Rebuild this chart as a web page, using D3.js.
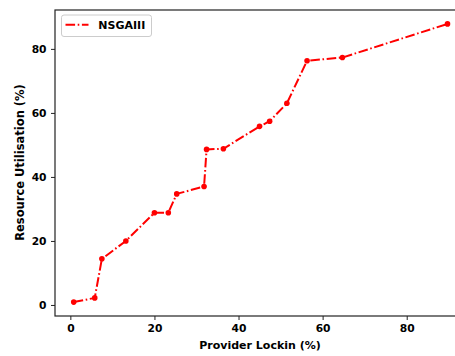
<!DOCTYPE html>
<html><head><meta charset="utf-8">
<script src="https://cdn.jsdelivr.net/npm/d3@7"></script>
<style>body{margin:0;background:#fff}svg{display:block}text{font-family:"DejaVu Sans",sans-serif;font-weight:bold}</style>
</head><body>
<svg id="c" width="455" height="356"></svg>
<script>
const seriesName = "NSGAIII";
const lockin = [0.8, 5.8, 7.5, 13.2, 20.0, 23.3, 25.3, 31.8, 32.4, 36.4, 45.0, 47.4, 51.5, 56.3, 64.7, 89.7];
const utilisation = [0.9, 2.2, 14.4, 20.0, 28.8, 28.8, 34.7, 37.0, 48.6, 48.8, 55.8, 57.4, 63.0, 76.3, 77.3, 87.8];
const xTicks = [0, 20, 40, 60, 80];
const yTicks = [0, 20, 40, 60, 80];

const svg = d3.select("#c");
const L = 55, R = 466, T = 10, B = 316;
const x = d3.scaleLinear().domain([-3.65, 94.1]).range([L, R]);
const y = d3.scaleLinear().domain([-3.45, 92.15]).range([B, T]);

const ax = svg.append("g").attr("transform", `translate(0,${B})`)
  .call(d3.axisBottom(x).tickValues(xTicks).tickSize(4).tickPadding(4).tickSizeOuter(0));
const ay = svg.append("g").attr("transform", `translate(${L},0)`)
  .call(d3.axisLeft(y).tickValues(yTicks).tickSize(4).tickPadding(4.5).tickSizeOuter(0));
[ax, ay].forEach(g => {
  g.select(".domain").remove();
  g.selectAll("line").attr("stroke", "#222").attr("stroke-width", 1);
  g.selectAll("text").attr("font-size", 10.7).attr("font-weight", "bold").attr("fill", "#000")
    .attr("font-family", "DejaVu Sans");
});
// spines
svg.append("rect").attr("x", L).attr("y", T).attr("width", R - L).attr("height", B - T)
  .attr("fill", "none").attr("stroke", "#222").attr("stroke-width", 1.2);

const pts = lockin.map((v, i) => [v, utilisation[i]]);
svg.append("path").datum(pts)
  .attr("d", d3.line().x(d => x(d[0])).y(d => y(d[1])))
  .attr("fill", "none").attr("stroke", "#ff0000").attr("stroke-width", 2)
  .attr("stroke-dasharray", "9.6,2.6,1.6,2.6");
svg.append("g").selectAll("circle").data(pts).join("circle")
  .attr("cx", d => x(d[0])).attr("cy", d => y(d[1])).attr("r", 2.8).attr("fill", "#ff0000");

// legend
const lg = svg.append("g");
lg.append("rect").attr("x", 61.5).attr("y", 15).attr("width", 90).attr("height", 21.5).attr("rx", 2.5)
  .attr("fill", "#fff").attr("fill-opacity", 0.8).attr("stroke", "#ccc").attr("stroke-width", 1);
lg.append("line").attr("x1", 65.5).attr("x2", 88.5).attr("y1", 24.7).attr("y2", 24.7)
  .attr("stroke", "#ff0000").attr("stroke-width", 2).attr("stroke-dasharray", "9.6,2.6,1.6,2.6");
lg.append("text").attr("x", 98.3).attr("y", 29).attr("font-size", 11).text(seriesName);

svg.append("text").attr("x", 260).attr("y", 348.5).attr("text-anchor", "middle").attr("font-size", 11).text("Provider Lockin (%)");
svg.append("text").attr("transform", "translate(23.5,162.5) rotate(-90)").attr("text-anchor", "middle").attr("font-size", 11.5).text("Resource Utilisation (%)");
</script>
</body></html>
